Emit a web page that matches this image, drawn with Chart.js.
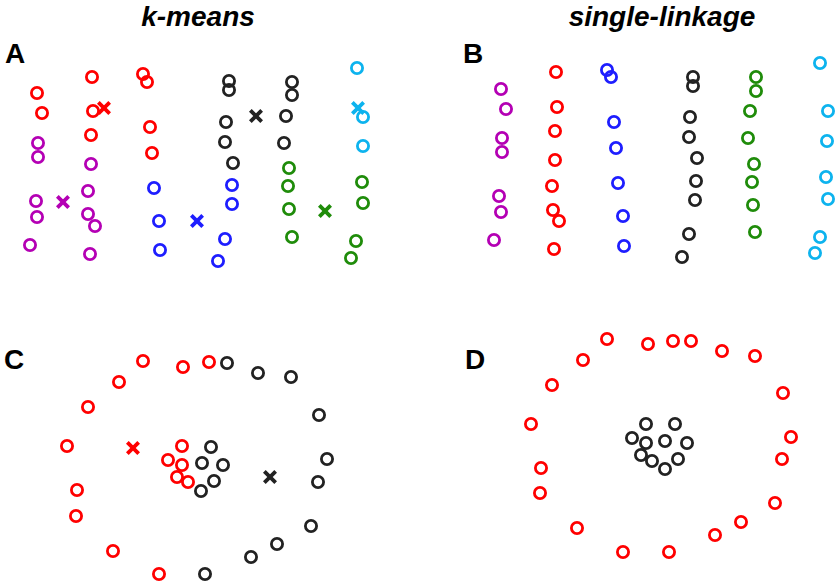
<!DOCTYPE html>
<html>
<head>
<meta charset="utf-8">
<script src="https://cdn.jsdelivr.net/npm/chart.js@4.4.1/dist/chart.umd.min.js"></script>
<style>
  html, body { margin: 0; padding: 0; background: #fff; }
  body { width: 836px; height: 583px; position: relative; overflow: hidden; font-family: "Liberation Sans", Arial, sans-serif; }
  .panel { position: absolute; }
  .title { position: absolute; font-weight: bold; font-style: italic; font-size: 28px; line-height: 1; color: #000; transform: translateX(-50%); white-space: nowrap; }
  .letter { position: absolute; font-weight: bold; font-size: 28px; line-height: 1; color: #000; }
</style>
</head>
<body>
<div class="title" style="left:198px; top:3px;">k-means</div>
<div class="title" style="left:662px; top:3px;">single-linkage</div>
<div class="letter" style="left:5px; top:40px;">A</div>
<div class="letter" style="left:463px; top:40px;">B</div>
<div class="letter" style="left:4px; top:346px;">C</div>
<div class="letter" style="left:465px; top:346px;">D</div>

<div class="panel" style="left:0px; top:50px; width:418px; height:240px;"><canvas id="cA"></canvas></div>
<div class="panel" style="left:418px; top:50px; width:418px; height:240px;"><canvas id="cB"></canvas></div>
<div class="panel" style="left:0px; top:330px; width:418px; height:253px;"><canvas id="cC"></canvas></div>
<div class="panel" style="left:418px; top:330px; width:418px; height:253px;"><canvas id="cD"></canvas></div>

<script>
// ---- colours ----
const RED = '#ff0000', PURPLE = '#b400b4', BLUE = '#1e1eff', BLACK = '#222222', GREEN = '#1f8c0a', CYAN = '#0db3ee';

// ---- Panel A: k-means on column data (x, y; y measured downward) ----
const A_purple = [[38,93],[38,107],[36,151],[37,167],[30,195],[91,114],[88,141],[88,164],[95,176],[90,204]];
const A_red    = [[37,43],[42,63],[92,27],[93,61],[91,85],[143,24],[147,32],[150,77],[152,103]];
const A_blue   = [[154,138],[159,171],[160,200],[232,135],[232,154],[225,189],[218,211]];
const A_black  = [[229,31],[229,40],[226,72],[225,92],[233,113],[292,32],[292,45],[286,66],[284,93]];
const A_green  = [[289,118],[288,136],[289,159],[292,187],[362,132],[363,153],[356,191],[351,208]];
const A_cyan   = [[357,18],[363,67],[363,96]];
const A_centroids = { purple:[63,152], red:[104,58], blue:[197,171], black:[256,66], green:[325,161], cyan:[358,58] };

// ---- Panel B: single-linkage on column data ----
const B_purple = [[83,39],[88,59],[84,88],[84,102],[81,146],[83,162],[76,190]];
const B_red    = [[138,22],[139,57],[137,81],[137,110],[134,136],[135,160],[141,171],[136,199]];
const B_blue   = [[189,20],[193,27],[196,72],[198,98],[200,133],[205,166],[206,196]];
const B_black  = [[275,27],[275,36],[272,67],[271,87],[279,108],[278,131],[277,150],[271,184],[264,207]];
const B_green  = [[338,27],[338,41],[332,61],[330,88],[336,114],[334,132],[335,155],[337,182]];
const B_cyan   = [[402,13],[410,61],[409,91],[408,127],[410,149],[402,187],[397,203]];

// ---- Panel C: k-means on ring data ----
const C_red   = [[143,31],[183,37],[119,52],[88,77],[67,116],[182,116],[168,130],[182,135],[177,147],[188,152],[77,160],[76,186],[113,221],[159,244],[209,32]];
const C_black = [[227,33],[258,43],[291,47],[319,85],[211,117],[202,133],[223,135],[327,129],[214,151],[201,161],[318,152],[311,196],[277,214],[251,227],[205,244]];
const C_centroids = { red:[133,118], black:[270,147] };

// ---- Panel D: single-linkage on ring data ----
const D_red   = [[189,9],[230,14],[165,30],[134,55],[113,94],[123,138],[122,163],[159,198],[205,222],[255,11],[273,11],[304,21],[337,26],[365,63],[373,107],[364,129],[357,173],[323,192],[297,205],[251,222]];
const D_black = [[228,94],[257,94],[214,108],[228,113],[247,111],[269,113],[223,125],[234,131],[260,129],[247,139]];

function pts(arr) { return arr.map(p => ({ x: p[0], y: p[1] })); }

function circles(arr, color) {
  return { data: pts(arr), borderColor: color, backgroundColor: 'rgba(0,0,0,0)', pointStyle: 'circle',
    pointRadius: 5.6, pointHoverRadius: 5.6, borderWidth: 2.8, pointBorderWidth: 2.8, clip: false, order: 2 };
}
function cross(p, color) {
  return { data: pts([p]), borderColor: color, backgroundColor: color, pointStyle: 'crossRot',
    pointRadius: 8, pointHoverRadius: 8, borderWidth: 3.8, pointBorderWidth: 3.8, clip: false, order: 1 };
}

function makeChart(id, w, h, datasets) {
  new Chart(document.getElementById(id), {
    type: 'scatter',
    data: { datasets },
    options: {
      responsive: true, maintainAspectRatio: false, animation: false, events: [],
      layout: { padding: 0, autoPadding: false },
      plugins: { legend: { display: false }, tooltip: { enabled: false }, title: { display: false } },
      scales: {
        x: { type: 'linear', min: 0, max: w, display: false },
        y: { type: 'linear', min: 0, max: h, reverse: true, display: false }
      }
    }
  });
}

makeChart('cA', 418, 240, [
  circles(A_purple, PURPLE), circles(A_red, RED), circles(A_blue, BLUE),
  circles(A_black, BLACK), circles(A_green, GREEN), circles(A_cyan, CYAN),
  cross(A_centroids.purple, PURPLE), cross(A_centroids.red, RED), cross(A_centroids.blue, BLUE),
  cross(A_centroids.black, BLACK), cross(A_centroids.green, GREEN), cross(A_centroids.cyan, CYAN)
]);
makeChart('cB', 418, 240, [
  circles(B_purple, PURPLE), circles(B_red, RED), circles(B_blue, BLUE),
  circles(B_black, BLACK), circles(B_green, GREEN), circles(B_cyan, CYAN)
]);
makeChart('cC', 418, 253, [
  circles(C_red, RED), circles(C_black, BLACK),
  cross(C_centroids.red, RED), cross(C_centroids.black, BLACK)
]);
makeChart('cD', 418, 253, [
  circles(D_red, RED), circles(D_black, BLACK)
]);
</script>
</body>
</html>
